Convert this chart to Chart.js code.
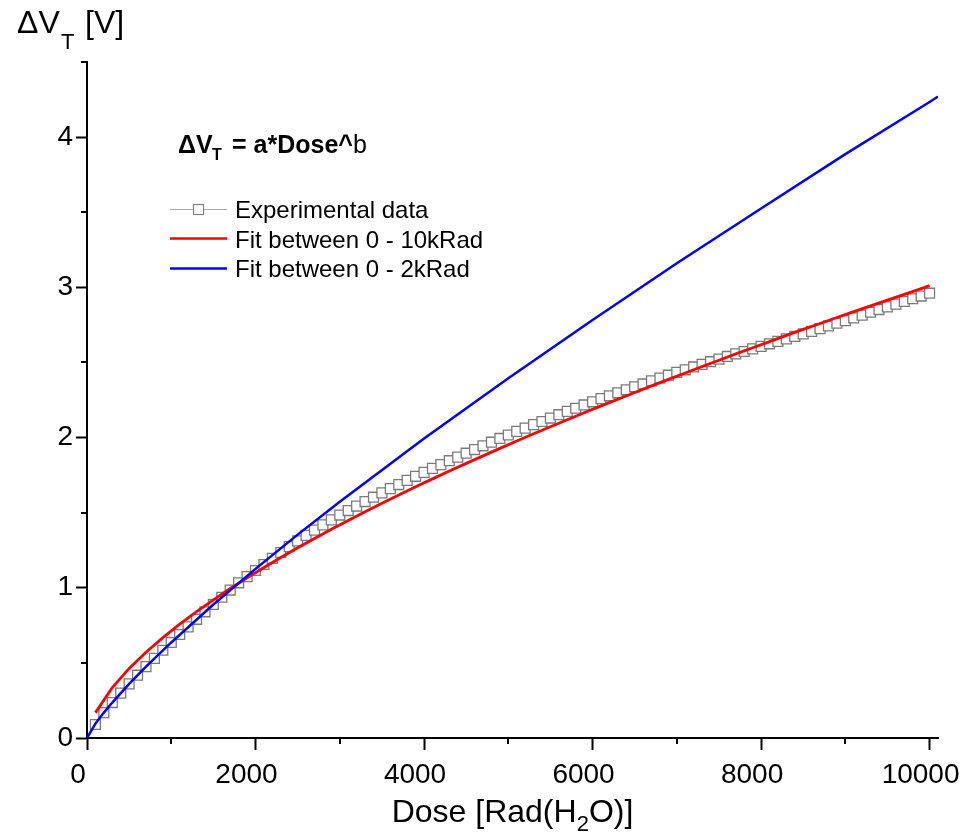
<!DOCTYPE html>
<html>
<head>
<meta charset="utf-8">
<script src="https://cdn.jsdelivr.net/npm/chart.js@4"></script>
<style>
  body { margin: 0; background: #fff; }
  canvas { display: block; }
</style>
</head>
<body>
<canvas id="grafico" width="967" height="832"></canvas>
<script>
// datos
const dosis = [100, 200, 300, 400, 500, 600, 700, 800, 900, 1000,
  1100, 1200, 1300, 1400, 1500, 1600, 1700, 1800, 1900, 2000,
  2100, 2200, 2300, 2400, 2500, 2600, 2700, 2800, 2900, 3000,
  3100, 3200, 3300, 3400, 3500, 3600, 3700, 3800, 3900, 4000,
  4100, 4200, 4300, 4400, 4500, 4600, 4700, 4800, 4900, 5000,
  5100, 5200, 5300, 5400, 5500, 5600, 5700, 5800, 5900, 6000,
  6100, 6200, 6300, 6400, 6500, 6600, 6700, 6800, 6900, 7000,
  7100, 7200, 7300, 7400, 7500, 7600, 7700, 7800, 7900, 8000,
  8100, 8200, 8300, 8400, 8500, 8600, 8700, 8800, 8900, 9000,
  9100, 9200, 9300, 9400, 9500, 9600, 9700, 9800, 9900, 10000];

const experimental = [0.09, 0.169, 0.236, 0.299, 0.36, 0.418, 0.475, 0.53, 0.584, 0.636,
  0.689, 0.74, 0.79, 0.84, 0.889, 0.937, 0.985, 1.033, 1.074, 1.115,
  1.155, 1.196, 1.235, 1.274, 1.312, 1.349, 1.384, 1.419, 1.452, 1.484,
  1.514, 1.544, 1.574, 1.603, 1.632, 1.66, 1.687, 1.715, 1.742, 1.768,
  1.795, 1.82, 1.846, 1.87, 1.896, 1.92, 1.945, 1.969, 1.994, 2.017,
  2.041, 2.063, 2.086, 2.107, 2.13, 2.152, 2.174, 2.195, 2.217, 2.238,
  2.259, 2.278, 2.298, 2.318, 2.338, 2.357, 2.377, 2.396, 2.415, 2.434,
  2.451, 2.47, 2.487, 2.505, 2.522, 2.54, 2.557, 2.573, 2.59, 2.607,
  2.624, 2.64, 2.657, 2.673, 2.69, 2.707, 2.725, 2.743, 2.761, 2.778,
  2.797, 2.815, 2.834, 2.852, 2.87, 2.888, 2.906, 2.924, 2.942, 2.961];

const dosisFit10k = [100, 300, 500, 700, 900, 1100, 1300, 1500, 1700, 1900,
  2100, 2300, 2500, 2700, 2900, 3100, 3300, 3500, 3700, 3900,
  4100, 4300, 4500, 4700, 4900, 5100, 5300, 5500, 5700, 5900,
  6100, 6300, 6500, 6700, 6900, 7100, 7300, 7500, 7700, 7900,
  8100, 8300, 8500, 8700, 8900, 9100, 9300, 9500, 9700, 9900, 10000];

const fit10k = [0.169, 0.336, 0.463, 0.571, 0.668, 0.758, 0.841, 0.92, 0.995, 1.066,
  1.135, 1.202, 1.266, 1.328, 1.389, 1.448, 1.506, 1.562, 1.617, 1.672,
  1.725, 1.777, 1.828, 1.878, 1.928, 1.977, 2.025, 2.072, 2.119, 2.165,
  2.211, 2.255, 2.3, 2.344, 2.387, 2.43, 2.473, 2.515, 2.557, 2.598,
  2.639, 2.68, 2.72, 2.759, 2.799, 2.838, 2.877, 2.915, 2.953, 2.991, 3.011];

const dosisFit2k = [0, 100, 200, 300, 500, 700, 1000, 1500, 2000, 2500,
  3000, 4000, 5000, 6000, 7000, 8000, 9000, 10000, 10100];

const fit2k = [0, 0.096, 0.169, 0.236, 0.36, 0.475, 0.636, 0.889, 1.126, 1.354,
  1.573, 1.993, 2.395, 2.783, 3.16, 3.525, 3.887, 4.234, 4.27];

// marcas de los ejes
const marcasX = [0, 1000, 2000, 3000, 4000, 5000, 6000, 7000, 8000, 9000, 10000];
const marcasY = [0, 0.5, 1, 1.5, 2, 2.5, 3, 3.5, 4, 4.5];

const etiquetas = ['Experimental data', 'Fit between 0 - 10kRad', 'Fit between 0 - 2kRad'];

const fuente = '"Liberation Sans", Arial, sans-serif';

const aPuntos = (xs, ys) => xs.map((x, i) => ({ x: x, y: ys[i] }));

// marcas menores, titulos y leyenda
const decorado = {
  id: 'decorado',
  afterDraw(chart) {
    const ctx = chart.ctx;
    const ejeX = chart.scales.x;
    const ejeY = chart.scales.y;
    const area = chart.chartArea;

    ctx.save();
    ctx.strokeStyle = '#000';
    ctx.lineWidth = 2;
    ctx.beginPath();
    ejeX.ticks.forEach(t => {
      if (t.value % 2000 !== 0) {
        const px = Math.round(ejeX.getPixelForValue(t.value));
        ctx.moveTo(px, area.bottom);
        ctx.lineTo(px, area.bottom + 6);
      }
    });
    ejeY.ticks.forEach(t => {
      if (!Number.isInteger(t.value)) {
        const py = Math.round(ejeY.getPixelForValue(t.value));
        ctx.moveTo(area.left - 6, py);
        ctx.lineTo(area.left, py);
      }
    });
    ctx.stroke();

    ctx.fillStyle = '#000';
    ctx.textBaseline = 'alphabetic';
    ctx.textAlign = 'left';

    // titulo eje Y
    ctx.font = '32px ' + fuente;
    ctx.fillText('\u0394V', 17, 33);
    ctx.font = '22px ' + fuente;
    ctx.fillText('T', 61, 49);
    ctx.font = '32px ' + fuente;
    ctx.fillText('[V]', 85, 33);

    // titulo eje X
    ctx.font = '32px ' + fuente;
    const p1 = 'Dose [Rad(H';
    const p3 = 'O)]';
    const w1 = ctx.measureText(p1).width;
    const w3 = ctx.measureText(p3).width;
    ctx.font = '22px ' + fuente;
    const w2 = ctx.measureText('2').width;
    let x0 = (area.left + area.right) / 2 - (w1 + w2 + w3) / 2;
    ctx.font = '32px ' + fuente;
    ctx.fillText(p1, x0, 822);
    ctx.font = '22px ' + fuente;
    ctx.fillText('2', x0 + w1, 831);
    ctx.font = '32px ' + fuente;
    ctx.fillText(p3, x0 + w1 + w2, 822);

    // formula
    ctx.font = 'bold 25px ' + fuente;
    ctx.fillText('\u0394V', 178, 153);
    ctx.font = 'bold 16px ' + fuente;
    ctx.fillText('T', 212, 160);
    ctx.font = 'bold 25px ' + fuente;
    ctx.fillText('= a*Dose^', 232, 153);
    const wf = ctx.measureText('= a*Dose^').width;
    ctx.font = '25px ' + fuente;
    ctx.fillText('b', 232 + wf, 153);

    // leyenda
    ctx.lineWidth = 1.2;
    ctx.strokeStyle = '#a8a8a8';
    ctx.beginPath();
    ctx.moveTo(170, 209.5); ctx.lineTo(193, 209.5);
    ctx.moveTo(204, 209.5); ctx.lineTo(227, 209.5);
    ctx.stroke();
    ctx.strokeStyle = '#808080';
    ctx.strokeRect(193.5, 204.5, 10, 10);

    ctx.lineWidth = 2.5;
    ctx.strokeStyle = '#ff0000';
    ctx.beginPath(); ctx.moveTo(170, 238.5); ctx.lineTo(227, 238.5); ctx.stroke();
    ctx.strokeStyle = '#0000ff';
    ctx.beginPath(); ctx.moveTo(170, 268.5); ctx.lineTo(227, 268.5); ctx.stroke();

    ctx.font = '24px ' + fuente;
    ctx.fillText(etiquetas[0], 235, 218);
    ctx.fillText(etiquetas[1], 235, 248);
    ctx.fillText(etiquetas[2], 235, 277);
    ctx.restore();
  }
};

const config = {
  type: 'scatter',
  data: {
    datasets: [
      {
        label: etiquetas[0],
        data: aPuntos(dosis, experimental),
        showLine: true,
        borderColor: '#a8a8a8',
        borderWidth: 1,
        pointStyle: 'rect',
        pointRadius: 7,
        pointBorderColor: '#7a7a7a',
        pointBackgroundColor: '#ffffff',
        pointBorderWidth: 1.3,
        order: 3
      },
      {
        label: etiquetas[1],
        data: aPuntos(dosisFit10k, fit10k),
        showLine: true,
        borderColor: '#ff0000',
        borderWidth: 2.8,
        pointRadius: 0,
        tension: 0,
        order: 2
      },
      {
        label: etiquetas[2],
        data: aPuntos(dosisFit2k, fit2k),
        showLine: true,
        borderColor: '#0000ff',
        borderWidth: 2.5,
        pointRadius: 0,
        tension: 0,
        order: 1
      }
    ]
  },
  options: {
    responsive: false,
    animation: false,
    layout: { padding: { top: 62, right: 29, left: 0, bottom: 0 } },
    plugins: { legend: { display: false }, tooltip: { enabled: false } },
    scales: {
      x: {
        type: 'linear',
        min: 0,
        max: 10100,
        afterFit(scale) {
          scale.height = 94;
          scale.paddingLeft = 0;
          scale.paddingRight = 0;
        },
        afterBuildTicks(scale) { scale.ticks = marcasX.map(v => ({ value: v })); },
        border: { display: true, color: '#000', width: 2 },
        grid: {
          display: true,
          drawOnChartArea: false,
          drawTicks: true,
          tickLength: 12,
          tickWidth: 2,
          tickColor: (c) => (c.tick && c.tick.value % 2000 === 0) ? '#000' : 'rgba(0,0,0,0)'
        },
        ticks: {
          autoSkip: false,
          maxRotation: 0,
          padding: 8,
          labelOffset: -9,
          color: '#000',
          font: { family: fuente, size: 28 },
          callback: (v) => v % 2000 === 0 ? String(v) : ''
        }
      },
      y: {
        type: 'linear',
        min: 0,
        max: 4.5,
        afterFit(scale) {
          scale.width = 87;
          scale.paddingTop = 0;
          scale.paddingBottom = 0;
        },
        afterBuildTicks(scale) { scale.ticks = marcasY.map(v => ({ value: v })); },
        border: { display: true, color: '#000', width: 2 },
        grid: {
          display: true,
          drawOnChartArea: false,
          drawTicks: true,
          tickLength: 11,
          tickWidth: 2,
          tickColor: (c) => (c.tick && Number.isInteger(c.tick.value)) ? '#000' : 'rgba(0,0,0,0)'
        },
        ticks: {
          autoSkip: false,
          padding: 3,
          color: '#000',
          font: { family: fuente, size: 28 },
          callback: (v) => Number.isInteger(v) ? String(v) : ''
        }
      }
    }
  },
  plugins: [decorado]
};

const grafica = new Chart(document.getElementById('grafico'), config);
</script>
</body>
</html>
